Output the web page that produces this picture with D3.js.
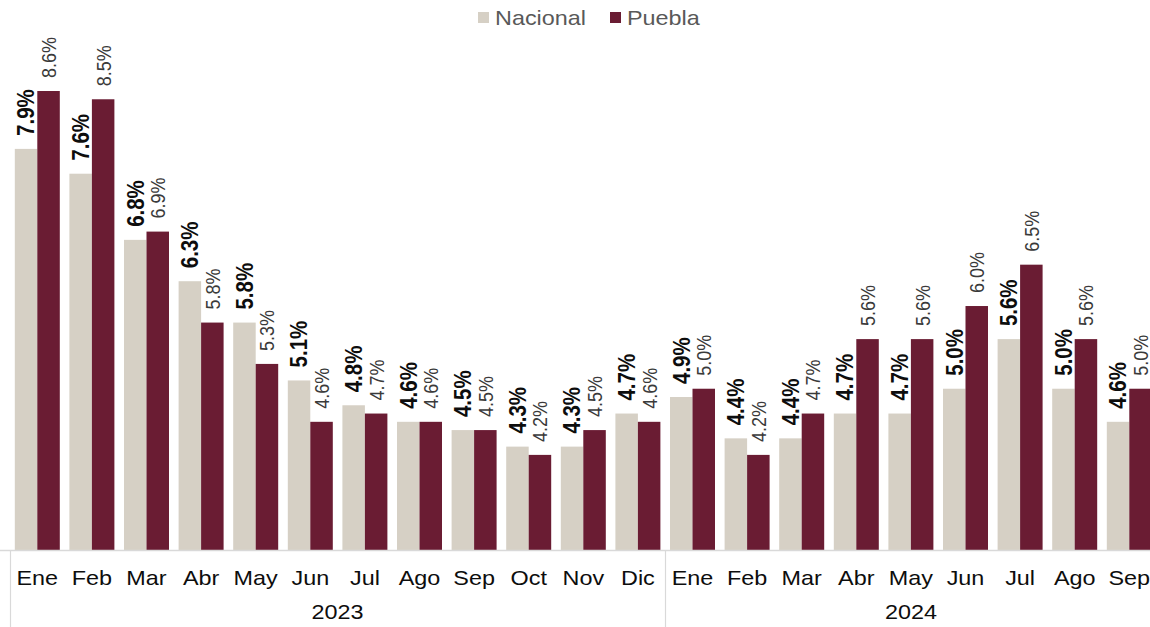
<!DOCTYPE html>
<html>
<head>
<meta charset="utf-8">
<script src="https://cdn.jsdelivr.net/npm/d3@7"></script>
<style>
  html, body { margin: 0; padding: 0; background: #fff; }
  svg { display: block; font-family: "Liberation Sans", Arial, sans-serif; }
</style>
</head>
<body>
<svg id="chart" width="1150" height="627"></svg>
<script>
const months = ["Ene","Feb","Mar","Abr","May","Jun","Jul","Ago","Sep","Oct","Nov","Dic",
                "Ene","Feb","Mar","Abr","May","Jun","Jul","Ago","Sep"];
const years = ["2023","2024"];
const yearOfMonth = [0,0,0,0,0,0,0,0,0,0,0,0,1,1,1,1,1,1,1,1,1];
const series = ["Nacional","Puebla"];
const nacional = [7.9,7.6,6.8,6.3,5.8,5.1,4.8,4.6,4.5,4.3,4.3,4.7,
                  4.9,4.4,4.4,4.7,4.7,5.0,5.6,5.0,4.6];
const puebla   = [8.6,8.5,6.9,5.8,5.3,4.6,4.7,4.6,4.5,4.2,4.5,4.6,
                  5.0,4.2,4.7,5.6,5.6,6.0,6.5,5.6,5.0];
const colors = {"Nacional": "#d6d0c5", "Puebla": "#6a1c33"};

const svg = d3.select("#chart");
const SX = 1.17; // horizontal text stretch
const baseY = 550;
const ids = months.map((m,i) => i);

const x = d3.scaleBand().domain(ids).range([10, 10 + 54.6*21]).paddingInner(0.176).paddingOuter(0.088);
const xs = d3.scaleBand().domain(series).range([0, x.bandwidth()]);
const y = d3.scaleLinear().domain([3.05, 8.6]).range([baseY, 91]);

const data = ids.map(i => ({i, vals: [
  {s: "Nacional", v: nacional[i]}, {s: "Puebla", v: puebla[i]}]}));

const g = svg.append("g");
const grp = g.selectAll("g.grp").data(data).join("g")
  .attr("transform", d => `translate(${x(d.i)},0)`);

grp.selectAll("rect").data(d => d.vals).join("rect")
  .attr("x", d => xs(d.s))
  .attr("width", xs.bandwidth())
  .attr("y", d => y(d.v))
  .attr("height", d => baseY - y(d.v))
  .attr("fill", d => colors[d.s]);

grp.selectAll("text.lbl").data(d => d.vals).join("text")
  .attr("class", "lbl")
  .attr("transform", d => `translate(${xs(d.s) + xs.bandwidth()/2},${y(d.v) - 13}) scale(${SX},1) rotate(-90)`)
  .attr("dy", "0.35em")
  .attr("text-anchor", "start")
  .attr("font-size", d => d.s === "Nacional" ? 20.5 : 18)
  .attr("font-weight", d => d.s === "Nacional" ? "bold" : "normal")
  .attr("fill", d => d.s === "Nacional" ? "#0d0d0d" : "#3a3a3a")
  .text(d => d.v.toFixed(1) + "%");

// axis lines
const axisColor = "#d9d9d9";
svg.append("line").attr("x1", 0).attr("x2", 1150).attr("y1", baseY + 0.5).attr("y2", baseY + 0.5)
  .attr("stroke", axisColor).attr("stroke-width", 1.5);
const seps = [x.range()[0], x(12) - x.step()*x.paddingInner()/2];
svg.selectAll("line.sep").data(seps).join("line").attr("class","sep")
  .attr("x1", d => Math.round(d) + 0.5).attr("x2", d => Math.round(d) + 0.5)
  .attr("y1", baseY).attr("y2", 627)
  .attr("stroke", axisColor).attr("stroke-width", 1.2);

// month labels
svg.selectAll("text.mon").data(ids).join("text").attr("class","mon")
  .attr("transform", i => `translate(${x(i) + x.bandwidth()/2},585) scale(${SX},1)`)
  .attr("text-anchor", "middle")
  .attr("font-size", 20)
  .attr("fill", "#0d0d0d")
  .text(i => months[i]);

// year labels
const yearSpans = years.map((yr, k) => {
  const idx = ids.filter(i => yearOfMonth[i] === k);
  const a = x(idx[0]) - x.step()*x.paddingInner()/2;
  const b = x(idx[idx.length-1]) + x.bandwidth() + x.step()*x.paddingInner()/2;
  return {yr, c: (a+b)/2};
});
svg.selectAll("text.yr").data(yearSpans).join("text").attr("class","yr")
  .attr("transform", d => `translate(${d.c},619) scale(${SX},1)`)
  .attr("text-anchor", "middle")
  .attr("font-size", 20)
  .attr("fill", "#0d0d0d")
  .text(d => d.yr);

// legend
const legendX = [478, 610];
const leg = svg.selectAll("g.leg").data(series).join("g").attr("class","leg")
  .attr("transform", (d,k) => `translate(${legendX[k]},0)`);
leg.append("rect").attr("x", 0).attr("y", 12).attr("width", 11).attr("height", 11)
  .attr("fill", d => colors[d]);
leg.append("text")
  .attr("transform", `translate(17,24.5) scale(${SX},1)`)
  .attr("font-size", 20)
  .attr("fill", "#595959")
  .text(d => d);
</script>
</body>
</html>
